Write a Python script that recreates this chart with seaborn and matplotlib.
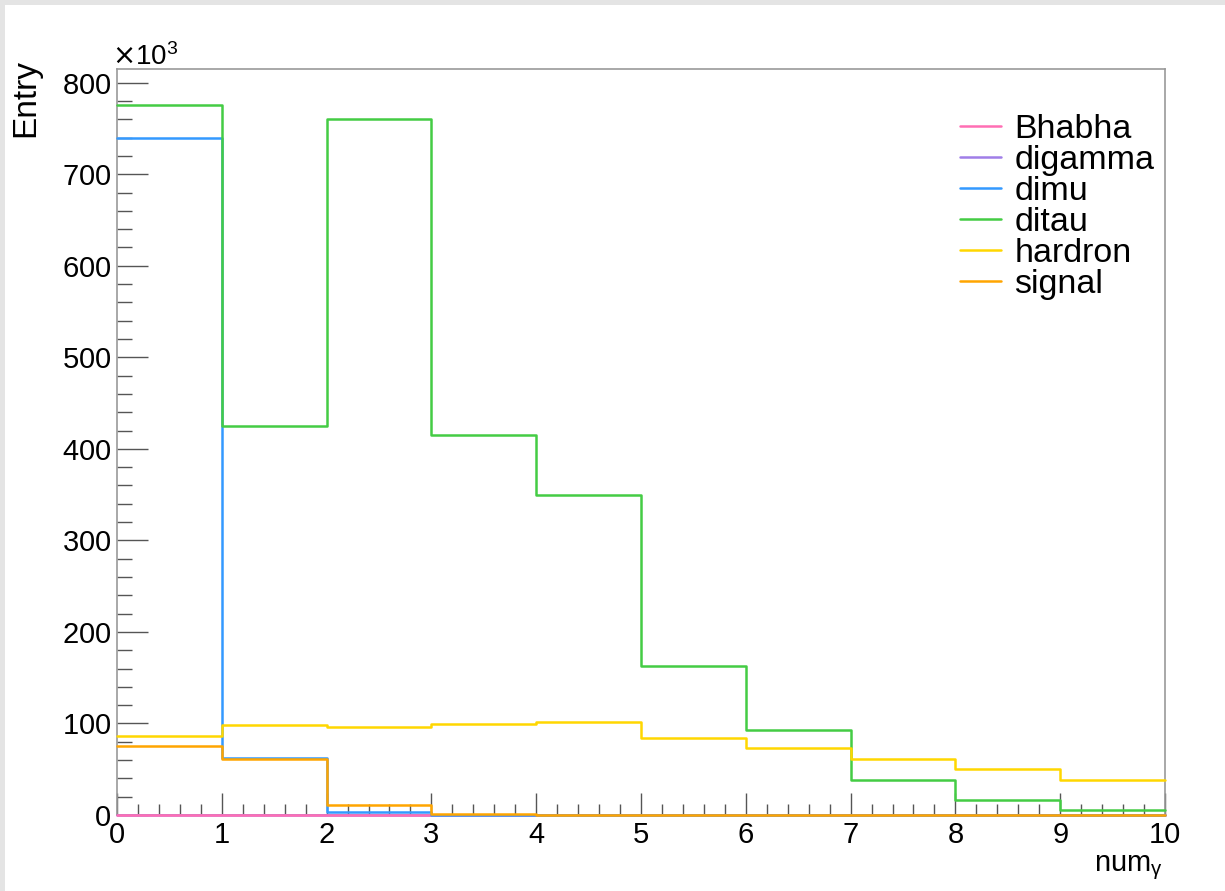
import numpy as np
import pandas as pd
import matplotlib
matplotlib.use("Agg")
import matplotlib.pyplot as plt
import seaborn as sns
from matplotlib.lines import Line2D
from matplotlib.patches import Rectangle
from matplotlib.ticker import MultipleLocator, ScalarFormatter

# ---- data (entries per bin of num_gamma, bins 0..10) ----
bin_edges = [0, 1, 2, 3, 4, 5, 6, 7, 8, 9, 10]
processes = ["Bhabha", "digamma", "dimu", "ditau", "hardron", "signal"]
bhabha  = [0, 0, 0, 0, 0, 0, 0, 0, 0, 0]
digamma = [0, 0, 0, 0, 0, 0, 0, 0, 0, 0]
dimu    = [740000, 62000, 3000, 500, 0, 0, 0, 0, 0, 0]
ditau   = [776000, 425000, 760000, 415000, 350000, 163000, 93000, 38000, 16500, 5800]
hardron = [86000, 98000, 96500, 99000, 101500, 84000, 73000, 61000, 50000, 38500]
signal  = [75500, 61000, 10500, 1200, 200, 0, 0, 0, 0, 0]
colors  = ["#ff6eb4", "#a07ee8", "#3399ff", "#44cc44", "#ffd700", "#ffa500"]

series = [bhabha, digamma, dimu, ditau, hardron, signal]
draw_z = [3.02, 3.01, 3.03, 3.04, 3.05, 3.06]

sns.set_style("white")
plt.rcParams["font.family"] = ["Liberation Sans", "DejaVu Sans"]
plt.rcParams["text.color"] = "black"
plt.rcParams["axes.labelcolor"] = "black"
plt.rcParams["xtick.labelcolor"] = "black"
plt.rcParams["ytick.labelcolor"] = "black"

fig = plt.figure(figsize=(12.25, 8.91), dpi=100)
fig.patch.set_facecolor("white")
# grey canvas border (left, top)
fig.add_artist(Rectangle((0, 0), 5 / 1225, 1, transform=fig.transFigure,
                         facecolor="#e4e4e4", edgecolor="none", zorder=-1))
fig.add_artist(Rectangle((0, 1 - 5 / 891), 1, 5 / 891, transform=fig.transFigure,
                         facecolor="#e4e4e4", edgecolor="none", zorder=-1))

ax = fig.add_axes([117 / 1225, 76 / 891, (1165 - 117) / 1225, (822 - 76) / 891])

centers = [(bin_edges[i] + bin_edges[i + 1]) / 2 for i in range(len(bin_edges) - 1)]
for name, vals, c, z in zip(processes, series, colors, draw_z):
    n_before = len(ax.lines)
    df = pd.DataFrame({"num": centers, "w": vals})
    sns.histplot(data=df, x="num", weights="w", bins=bin_edges, element="step",
                 fill=False, color=c, linewidth=1.8, ax=ax, legend=False)
    for ln in ax.lines[n_before:]:
        ln.set_zorder(z)
        ln.set_clip_on(False)

ax.set_xlim(0, 10)
ax.set_ylim(0, 815000)

ax.xaxis.set_major_locator(MultipleLocator(1))
ax.xaxis.set_minor_locator(MultipleLocator(0.2))
ax.yaxis.set_major_locator(MultipleLocator(100000))
ax.yaxis.set_minor_locator(MultipleLocator(20000))

fmt = ScalarFormatter(useMathText=True)
fmt.set_powerlimits((3, 3))
ax.yaxis.set_major_formatter(fmt)
off = ax.yaxis.get_offset_text()
off.set_fontsize(20)
off.set_color("black")
off.set_x(-0.005)

ax.tick_params(axis="y", which="major", direction="in", length=22, width=1,
               color="#555555", labelsize=21, pad=4, left=True, right=False)
ax.tick_params(axis="y", which="minor", direction="in", length=11, width=1,
               color="#555555", left=True, right=False)
ax.tick_params(axis="x", which="major", direction="in", length=16, width=1,
               color="#555555", labelsize=21, pad=4, bottom=True, top=False)
ax.tick_params(axis="x", which="minor", direction="in", length=8, width=1,
               color="#555555", bottom=True, top=False)

for sp in ax.spines.values():
    sp.set_color("#999999")
    sp.set_linewidth(1.2)

ax.set_xlabel("num$_{\\mathregular{γ}}$", fontsize=21)
ax.xaxis.set_label_coords(0.998, -0.052)
ax.xaxis.label.set_horizontalalignment("right")
ax.set_ylabel("Entry", fontsize=24)
ax.yaxis.set_label_coords(-0.072, 1.014)
ax.yaxis.label.set_horizontalalignment("right")

handles = [Line2D([0], [0], color=c, lw=1.8) for c in colors]
ax.legend(handles, processes, loc="upper right", bbox_to_anchor=(1.003, 0.958),
          frameon=False, fontsize=24.5, handlelength=1.2, handletextpad=0.4,
          labelspacing=0.0, borderaxespad=0)

fig.savefig("out.png", dpi=100)
